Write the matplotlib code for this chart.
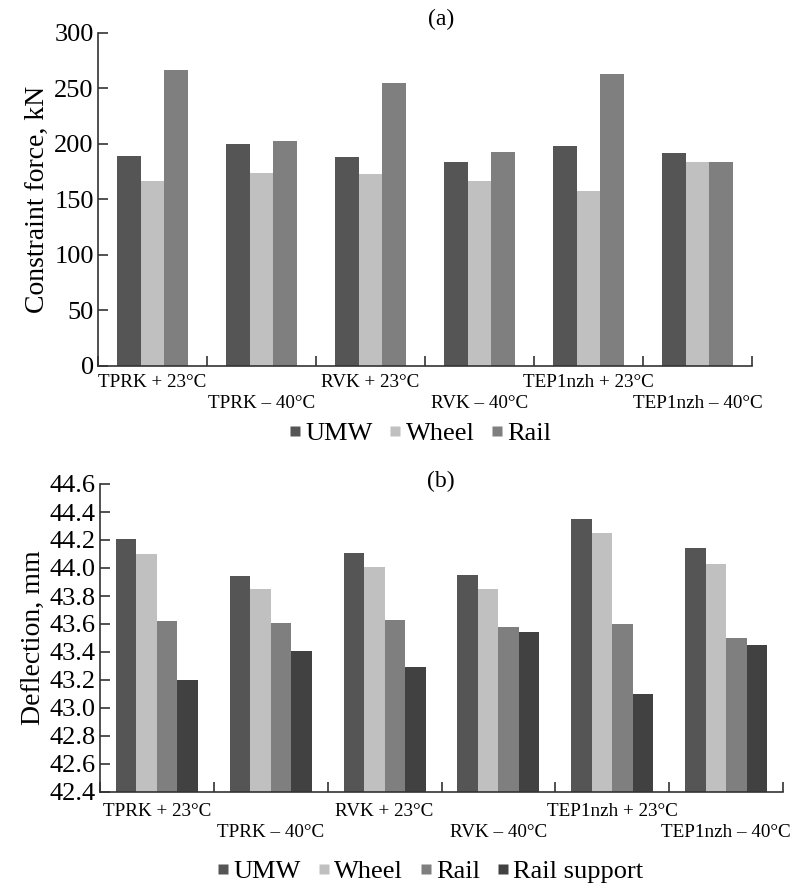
import numpy as np
import matplotlib
matplotlib.use("Agg")
import matplotlib.pyplot as plt
from matplotlib.lines import Line2D

plt.rcParams['font.family'] = ['Liberation Serif', 'DejaVu Serif']

# 数据
categories = ["TPRK + 23°C", "TPRK – 40°C", "RVK + 23°C",
              "RVK – 40°C", "TEP1nzh + 23°C", "TEP1nzh – 40°C"]

force_umw = [189, 200, 188, 184, 198, 191.5]
force_wheel = [167, 174, 173, 167, 158, 184]
force_rail = [267, 203, 255, 192.5, 263, 183.5]

defl_umw = [44.21, 43.94, 44.11, 43.95, 44.35, 44.14]
defl_wheel = [44.10, 43.85, 44.01, 43.85, 44.25, 44.03]
defl_rail = [43.62, 43.61, 43.63, 43.58, 43.60, 43.50]
defl_support = [43.20, 43.41, 43.29, 43.545, 43.10, 43.45]

c_umw = "#555555"
c_wheel = "#c0c0c0"
c_rail = "#7f7f7f"
c_support = "#414141"

W, H = 796, 885
fig = plt.figure(figsize=(W / 100, H / 100), dpi=100)


def grouped(ax, series, colors, bar_w, bottom):
    x = np.arange(len(categories))
    n = len(series)
    for i, (vals, col) in enumerate(zip(series, colors)):
        off = (i - (n - 1) / 2) * bar_w
        ax.bar(x + off, np.array(vals) - bottom, bar_w, bottom=bottom,
               color=col, edgecolor='none')
    ax.set_xlim(-0.5, len(categories) - 0.5)
    ax.spines['top'].set_visible(False)
    ax.spines['right'].set_visible(False)
    for s in ('left', 'bottom'):
        ax.spines[s].set_linewidth(1.2)
        ax.spines[s].set_color('#333333')
    # 分组边界刻度
    ax.set_xticks(np.arange(len(categories) + 1) - 0.5)
    ax.set_xticklabels([])
    ax.tick_params(axis='x', which='major', direction='in', length=7, width=1.2, color='#333333')
    ax.set_xticks(x, minor=True)
    ax.set_xticklabels(categories, minor=True, fontsize=13.8)
    ax.tick_params(axis='x', which='minor', length=0)
    ax.tick_params(axis='y', direction='in', length=7, width=1.2, labelsize=19, pad=3,
                   color='#333333')


# (a)
ax1 = fig.add_axes([98 / W, 1 - 366 / H, 654 / W, 333 / H])
grouped(ax1, [force_umw, force_wheel, force_rail], [c_umw, c_wheel, c_rail], 0.22, 0)
ax1.set_ylim(0, 300)
ax1.set_yticks(np.arange(0, 301, 50))
ax1.set_ylabel("Constraint force, kN", fontsize=20, labelpad=3)
for i, t in enumerate(ax1.xaxis.get_minor_ticks()):
    t.set_pad(6 if i % 2 == 0 else 21)

# (b)
ax2 = fig.add_axes([100 / W, 1 - 792 / H, 683 / W, 308 / H])
grouped(ax2, [defl_umw, defl_wheel, defl_rail, defl_support],
        [c_umw, c_wheel, c_rail, c_support], 0.18, 42.4)
ax2.set_ylim(42.4, 44.6)
ax2.set_yticks(np.round(np.arange(42.4, 44.61, 0.2), 1))
ax2.set_yticklabels([f"{v:.1f}" for v in np.arange(42.4, 44.61, 0.2)])
ax2.set_ylabel("Deflection, mm", fontsize=20, labelpad=3)
for i, t in enumerate(ax2.xaxis.get_minor_ticks()):
    t.set_pad(8 if i % 2 == 0 else 23)

fig.text(441 / W, 1 - 19 / H, "(a)", ha='center', va='center', fontsize=17)
fig.text(441 / W, 1 - 481 / H, "(b)", ha='center', va='center', fontsize=17)


def handles(names, colors):
    return [Line2D([], [], marker='s', linestyle='none', markersize=7.5,
                   markerfacecolor=c, markeredgecolor='none', label=n)
            for n, c in zip(names, colors)]


leg_font = {'family': 'Liberation Serif', 'size': 19}
fig.legend(handles=handles(["UMW", "Wheel", "Rail"], [c_umw, c_wheel, c_rail]),
           loc='center', bbox_to_anchor=(420 / W, 1 - 433 / H), ncol=3, frameon=False,
           prop=leg_font, handlelength=0.5, handletextpad=0.15, columnspacing=0.6,
           borderpad=0)
fig.legend(handles=handles(["UMW", "Wheel", "Rail", "Rail support"],
                           [c_umw, c_wheel, c_rail, c_support]),
           loc='center', bbox_to_anchor=(430 / W, 1 - 871 / H), ncol=4, frameon=False,
           prop=leg_font, handlelength=0.5, handletextpad=0.15, columnspacing=0.6,
           borderpad=0)

fig.savefig("out.png", dpi=100)
